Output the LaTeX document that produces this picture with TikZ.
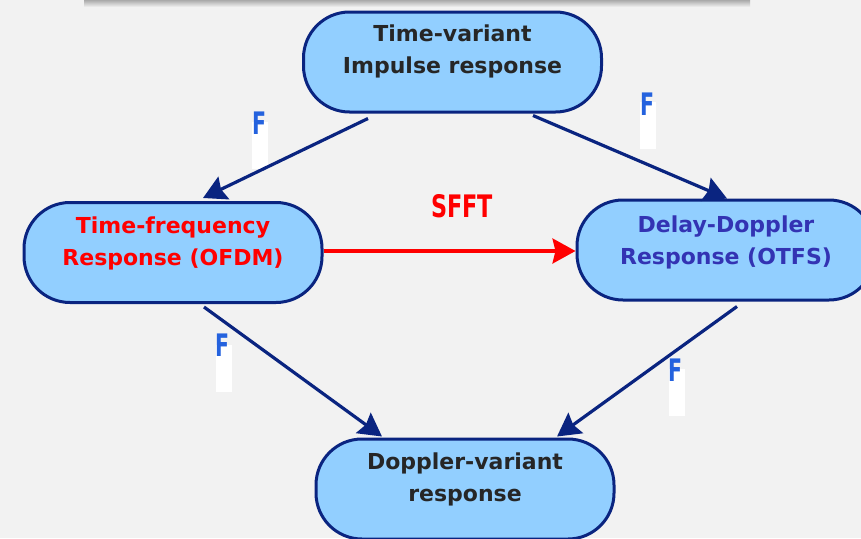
\documentclass[tikz,border=0pt]{standalone}
\usepackage{fontspec}
\usepackage{graphicx}
\setmainfont{DejaVu Sans}
\usetikzlibrary{arrows.meta}

\definecolor{bgcol}{HTML}{F2F2F2}
\definecolor{boxfill}{HTML}{92CFFF}
\definecolor{boxedge}{HTML}{0A2480}
\definecolor{darktext}{HTML}{262626}
\definecolor{otfsblue}{HTML}{3333B3}
\definecolor{fblue}{HTML}{2462DE}
\definecolor{arrowblue}{HTML}{0A2480}

\tikzset{
  pill/.style={draw=boxedge, line width=3pt, fill=boxfill, rounded corners=46pt,
    minimum width=298pt, minimum height=100pt, inner sep=0pt},
  pilltext/.style={font=\bfseries\fontsize{22}{32}\selectfont, align=center, inner sep=0pt},
  flow/.style={draw=arrowblue, line width=3.2pt,
    -{Stealth[length=23pt, width=25pt, inset=3pt]}},
  sfftflow/.style={draw=red, line width=3.2pt,
    -{Stealth[length=23pt, width=25pt, inset=3pt]}},
  flabel/.style={font=\bfseries\fontsize{31}{31}\selectfont, text=fblue, inner sep=0pt, anchor=north west},
  fstrip/.style={fill=white, draw=none, inner sep=0pt, anchor=north west, minimum width=16pt, minimum height=47pt},
}

\begin{document}
\begin{tikzpicture}[x=1pt, y=-1pt]
  % canvas
  \fill[bgcol] (0,0) rectangle (861,538);
  \useasboundingbox (0,0) rectangle (861,538);

  % header bar with its soft shadow
  \shade[top color=gray!75, bottom color=bgcol] (84,-1) rectangle (750,7);

  % the four response boxes
  \node[pill] (impulse) at (452.5,62) {};
  \node[pill] (tf) at (173,252.5) {};
  \node[pill] (dd) at (726,250) {};
  \node[pill] (doppler) at (465,489) {};

  \node[pilltext, text=darktext] (impulseT) at (452.5,51) {Time-variant\\Impulse response};
  \node[pilltext, text=red] (tfT) at (173,243) {Time-frequency\\Response (OFDM)};
  \node[pilltext, text=otfsblue] (ddT) at (726,242) {Delay-Doppler\\Response (OTFS)};
  \node[pilltext, text=darktext] (dopplerT) at (465,479) {Doppler-variant\\response};

  % white strips under the F labels
  \node[fstrip] (s1) at (252,122) {};
  \node[fstrip] (s2) at (640,102) {};
  \node[fstrip] (s3) at (216,345) {};
  \node[fstrip] (s4) at (669,369) {};

  % transform arrows
  \draw[flow] ([xshift=-84.5pt, yshift=-5pt]impulse.south) -- ([xshift=30pt, yshift=3pt]tf.north);
  \draw[flow] ([xshift=80.5pt, yshift=-2pt]impulse.south) -- ([xshift=1pt]dd.north);
  \draw[flow] ([xshift=31pt, yshift=-3pt]tf.south) -- ([xshift=-83pt, yshift=1pt]doppler.north);
  \draw[flow] ([xshift=11pt, yshift=-5pt]dd.south) -- ([xshift=92pt, yshift=1pt]doppler.north);
  \draw[sfftflow] ([yshift=1.5pt]tf.east) -- ([yshift=1.5pt]tf.east -| dd.west);

  % labels
  \node[flabel] (f1) at (252.5,112) {\scalebox{0.66}[1]{F}};
  \node[flabel] (f2) at (640.5,93) {\scalebox{0.66}[1]{F}};
  \node[flabel] (f3) at (215.5,334) {\scalebox{0.66}[1]{F}};
  \node[flabel] (f4) at (668.5,359) {\scalebox{0.66}[1]{F}};
  \node[font=\bfseries\fontsize{31}{31}\selectfont, text=red, inner sep=0pt] (sfft) at (462,206) {\scalebox{0.72}[1]{SFFT}};
\end{tikzpicture}
\end{document}
